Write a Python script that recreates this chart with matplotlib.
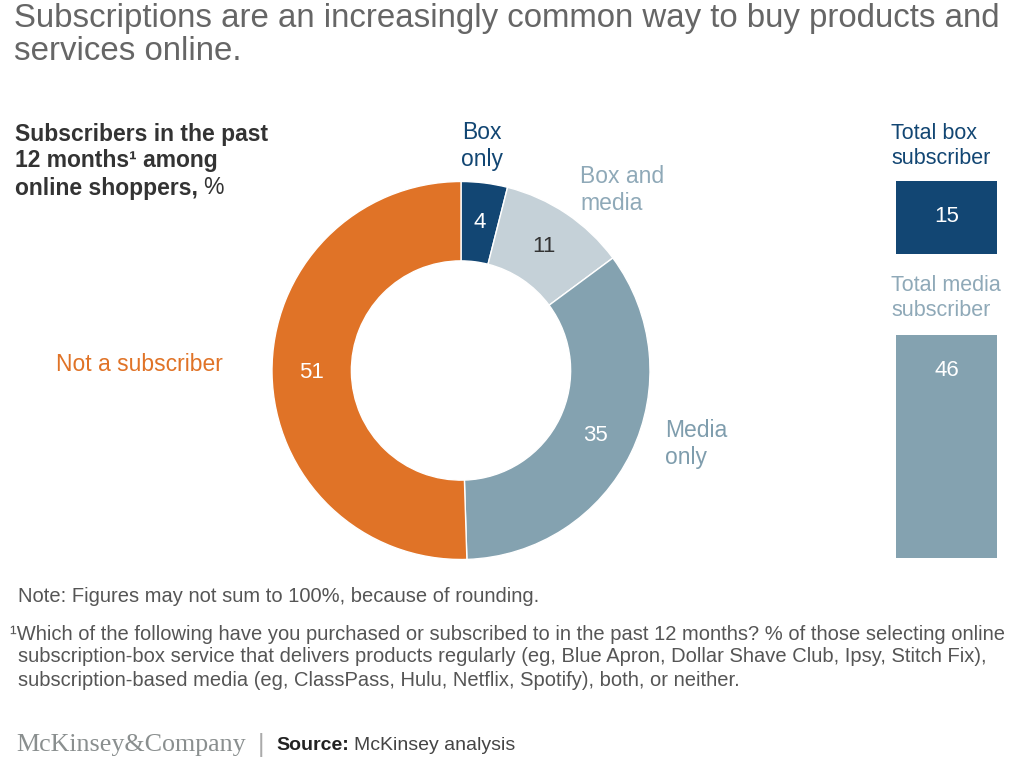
import matplotlib.pyplot as plt
import numpy as np

# segment data (clockwise from 12 o'clock)
segments = ['Box only', 'Box and media', 'Media only', 'Not a subscriber']
shares = [4, 11, 35, 51]
seg_colors = ['#124673', '#C5D1D8', '#84A2B0', '#E07327']
value_colors = ['white', '#333333', 'white', 'white']

totals = ['Total box\nsubscriber', 'Total media\nsubscriber']
total_values = [15, 46]
total_colors = ['#124673', '#84A2B0']

W, H = 1024, 764
plt.rcParams['font.family'] = ['Liberation Sans', 'DejaVu Sans']


def fx(x):
    return x / W


def fy(y):
    return 1 - y / H


def text_after(fig, t, gap, s, **kw):
    # place a text right after another one on the same baseline
    fig.canvas.draw()
    bb = t.get_window_extent()
    x = (bb.x1 + gap) / W
    return fig.text(x, t.get_position()[1], s, va=t.get_va(), **kw)


fig = plt.figure(figsize=(W / 100, H / 100), dpi=100)

fig.text(fx(14), fy(18), 'Subscriptions are an increasingly common way to buy products and',
         fontsize=23.8, color='#666666', va='center')
fig.text(fx(14), fy(51), 'services online.', fontsize=23.8, color='#666666', va='center')

fig.text(fx(15), fy(135), 'Subscribers in the past', fontsize=16.5, fontweight='bold', color='#333333', va='center')
fig.text(fx(15), fy(161), '12 months\u00b9 among', fontsize=16.5, fontweight='bold', color='#333333', va='center')
t = fig.text(fx(15), fy(188), 'online shoppers,', fontsize=16.5, fontweight='bold', color='#333333', va='center')
text_after(fig, t, 5, '%', fontsize=16.5, color='#333333')

# donut
cx, cy, r = 461, 370.5, 189
ax = fig.add_axes([fx(cx - r), fy(cy + r), 2 * r / W, 2 * r / H])
ax.pie(shares, colors=seg_colors, startangle=90, counterclock=False,
       radius=1, wedgeprops=dict(width=0.42, edgecolor='white', linewidth=1))
ax.set_xlim(-1, 1)
ax.set_ylim(-1, 1)
ax.set_aspect('auto')
ax.axis('off')

total = sum(shares)
start = 90
for val, col in zip(shares, value_colors):
    ang = np.deg2rad(start - val / total * 360 / 2)
    start -= val / total * 360
    ax.text(0.79 * np.cos(ang), 0.79 * np.sin(ang), str(val), ha='center', va='center',
            fontsize=16, color=col)

# segment labels
fig.text(fx(482), fy(146), 'Box\nonly', fontsize=16.5, color='#124673', ha='center', va='center', linespacing=1.25)
fig.text(fx(580), fy(190), 'Box and\nmedia', fontsize=16.5, color='#8FA9B8', ha='left', va='center', linespacing=1.25)
fig.text(fx(665), fy(444), 'Media\nonly', fontsize=16.5, color='#7F9DAD', ha='left', va='center', linespacing=1.25)
fig.text(fx(56), fy(365), 'Not a subscriber', fontsize=16.5, color='#E07327', ha='left', va='center')

# total bars, same scale
px_per_unit = 4.85
bar_tops = [181, 335]
label_y = [146, 298]
bar_label_colors = ['#124673', '#8FA9B8']
for name, val, col, top, ly, lc in zip(totals, total_values, total_colors, bar_tops, label_y, bar_label_colors):
    h = val * px_per_unit
    bax = fig.add_axes([fx(896), fy(top + h), 101 / W, h / H])
    bax.bar([0], [val], width=1, color=col)
    bax.set_xlim(-0.5, 0.5)
    bax.set_ylim(0, val)
    bax.axis('off')
    bax.text(0, val - 36 / px_per_unit, str(val), ha='center', va='center', fontsize=16, color='white')
    fig.text(fx(891), fy(ly), name, fontsize=15.5, color=lc, ha='left', va='center', linespacing=1.3)

# notes
note_kw = dict(fontsize=14.5, color='#555555', va='center')
fig.text(fx(18), fy(597), 'Note: Figures may not sum to 100%, because of rounding.', **note_kw)
fig.text(fx(10), fy(634), '\u00b9Which of the following have you purchased or subscribed to in the past 12 months? % of those selecting online', **note_kw)
fig.text(fx(18), fy(657), 'subscription-box service that delivers products regularly (eg, Blue Apron, Dollar Shave Club, Ipsy, Stitch Fix),', **note_kw)
fig.text(fx(18), fy(680), 'subscription-based media (eg, ClassPass, Hulu, Netflix, Spotify), both, or neither.', **note_kw)

fig.text(fx(16), fy(745), 'McKinsey&Company', fontsize=18.7, family=['Liberation Serif', 'DejaVu Serif'],
         color='#8A8F8F', va='center')
fig.text(fx(258), fy(745), '|', fontsize=18, color='#AAAAAA', va='center')
s = fig.text(fx(276), fy(745), 'Source:', fontsize=14, fontweight='bold', color='#222222', va='center')
text_after(fig, s, 5, 'McKinsey analysis', fontsize=14, color='#444444')

fig.savefig('out.png', dpi=100)
